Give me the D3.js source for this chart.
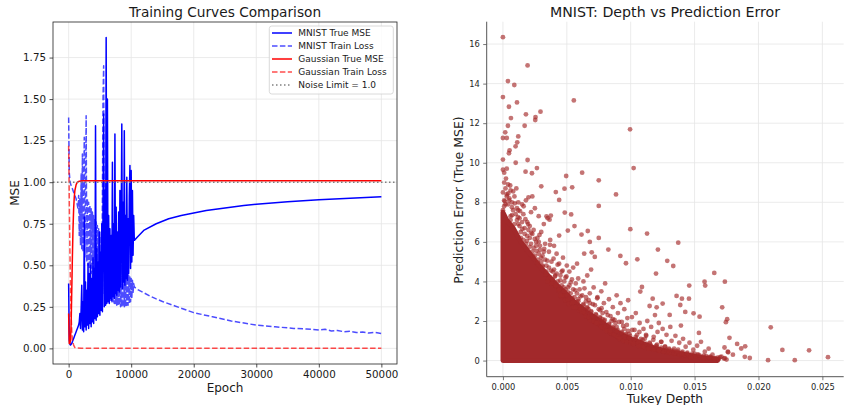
<!DOCTYPE html>
<html>
<head>
<meta charset="utf-8">
<script src="https://d3js.org/d3.v7.min.js"></script>
<style>
  body { margin: 0; background: #fff; }
  text { font-family: "DejaVu Sans", sans-serif; }
</style>
</head>
<body>
<script>
// ---- left panel: training curves ----
// noisy phase is logged every 100 epochs from 0 to 10500
var logStep = 100;
var mnistTrueNoisy = [0.39,0.05,0.025,0.02,0.025,0.03,0.04,0.05,0.06,0.07,
  0.08,0.09,0.10,0.11,0.12,0.13,0.14,0.16,
  0.21,0.12,0.24,0.38,0.11,0.28,0.10,0.79,0.13,0.40,0.11,0.35,
  0.14,0.51,0.12,0.45,0.15,0.50,0.13,0.42,0.16,0.55,
  0.15,0.48,0.18,1.34,0.17,0.60,0.19,0.52,0.21,0.70,
  0.20,0.58,0.23,0.75,0.22,0.85,1.41,0.25,0.95,0.26,
  1.87,0.27,1.50,0.28,0.80,0.27,0.72,0.30,0.68,0.29,
  1.12,0.31,0.75,0.30,1.29,0.33,0.85,0.32,0.70,0.35,
  0.82,0.34,0.95,0.37,0.72,1.35,0.36,0.88,0.40,1.31,
  0.38,0.80,0.42,1.03,0.41,0.78,0.45,0.92,1.10,0.48,
  1.07,0.52,0.95,0.56,0.80,0.65];
var mnistTrainNoisy = [1.39,1.06,1.01,0.99,0.98,0.97,0.96,0.95,0.94,0.93,
  0.92,0.91,0.90,0.88,0.86,
  0.84,0.92,0.68,0.90,0.62,1.05,0.60,1.17,0.58,0.95,
  1.27,0.55,0.92,1.40,0.52,0.90,0.50,0.88,0.48,0.86,
  0.46,0.84,0.45,0.82,0.43,0.80,0.42,0.78,0.40,0.76,
  0.39,0.74,0.37,0.72,0.36,0.70,0.35,0.68,0.34,0.90,
  1.50,1.70,0.33,0.66,0.32,0.64,0.31,0.62,0.30,0.60,
  0.30,0.60,0.29,0.58,0.28,0.57,0.28,0.56,0.27,0.55,
  0.27,0.54,0.26,0.53,0.26,0.52,0.26,0.50,0.25,0.50,
  0.25,0.49,0.25,0.48,0.25,0.47,0.25,0.46,0.26,0.45,
  0.26,0.44,0.27,0.43,0.28,0.42,0.30,0.41,0.33,0.39,0.37];
// smooth phase after 10500
var mnistTrueTailEpochs = [11000,12000,14000,16000,18000,20000,22000,25000,28000,30000,35000,40000,45000,50000];
var mnistTrueTail = [0.67,0.71,0.75,0.78,0.80,0.815,0.83,0.845,0.86,0.867,0.883,0.895,0.904,0.912];
var mnistTrainTailEpochs = [11000,12000,13000,14000,15000,17000,20000,23000,26000,30000,33000,36000,38000,40000,41000,42000,43000,44000,45000,46000,47000,48000,49000,50000];
var mnistTrainTail = [0.355,0.335,0.315,0.298,0.282,0.255,0.215,0.19,0.165,0.14,0.13,0.12,0.117,0.11,0.115,0.105,0.108,0.10,0.103,0.095,0.099,0.092,0.096,0.09];
var gaussTrueEpochs = [0,100,200,300,400,500,600,700,800,900,1000,1200,1400,1700,2000,50000];
var gaussTrue = [0.21,0.03,0.03,0.05,0.15,0.35,0.55,0.72,0.84,0.91,0.95,0.985,1.0,1.006,1.008,1.008];
var gaussTrainEpochs = [0,50,100,200,300,400,500,600,800,1000,1200,2000,50000];
var gaussTrain = [1.22,1.10,0.90,0.60,0.35,0.20,0.10,0.05,0.02,0.005,0.002,0.001,0.001];
var noiseLimit = 1.0;
var epochTicks = [0,10000,20000,30000,40000,50000];
var mseTicks = [0,0.25,0.5,0.75,1.0,1.25,1.5,1.75];
var legendLabels = ["MNIST True MSE","MNIST Train Loss","Gaussian True MSE","Gaussian Train Loss","Noise Limit = 1.0"];

// ---- right panel: depth vs error ----
var depthTicks = [0,0.005,0.010,0.015,0.020,0.025];
var errTicks = [0,2,4,6,8,10,12,14,16];
// upper edge of the saturated mass of points
var coreDepth = [0,0.0003,0.0008,0.0014,0.002,0.0027,0.0034,0.0041,0.0049,0.0057,0.0066,0.0075,0.0085,0.0095,0.0106,0.0118,0.013,0.0143,0.0156,0.0168];
var coreTop = [7.5,7.1,6.7,6.0,5.5,4.9,4.4,3.9,3.4,2.9,2.45,2.05,1.6,1.25,0.95,0.65,0.45,0.3,0.15,0.06];
// speckled band just above the mass
var bandPts = [[0.00015,8.05],[0.00042,8.45],[0.00071,7.35],[0.00093,7.95],[0.00118,7.25],[0.00134,7.55],[0.00152,6.65],[0.00176,7.15],[0.00188,6.05],[0.00057,8.85],[0.00024,9.2],[0.00105,8.7],[0.00162,7.8],[0.00197,6.9],
  [0.00208,5.75],[0.00221,6.45],[0.00237,5.25],[0.00249,6.15],[0.00262,5.55],[0.00274,4.95],[0.00286,6.35],[0.00298,5.2],[0.00311,4.75],[0.00323,5.65],[0.00336,4.35],[0.00347,5.05],[0.00359,4.15],[0.00368,5.85],[0.00377,4.55],[0.00389,3.95],[0.00396,5.15],
  [0.00407,4.25],[0.00415,3.75],[0.00428,4.85],[0.00436,3.55],[0.00449,4.05],[0.00458,3.25],[0.00467,4.55],[0.00476,3.7],[0.00488,3.05],[0.00497,4.25],[0.00509,3.45],[0.00517,2.85],[0.00531,3.95],[0.00542,3.15],[0.00553,2.7],[0.00566,3.55],[0.00578,2.95],[0.00589,4.15],[0.00597,2.55],
  [0.00608,3.25],[0.00617,2.45],[0.00629,2.85],[0.00638,3.65],[0.00646,2.25],[0.00659,2.65],[0.00671,3.05],[0.00683,2.05],[0.00692,2.45],[0.00704,2.85],[0.00716,1.95],[0.00727,2.35],[0.00738,3.15],[0.00749,1.85],[0.00761,2.15],[0.00772,2.65],[0.00786,1.65],[0.00797,2.05],
  [0.00809,2.45],[0.00818,1.55],[0.00831,1.85],[0.00842,2.25],[0.00853,1.35],[0.00866,1.65],[0.00874,2.05],[0.00887,1.25],[0.00898,1.55],[0.00909,1.95],[0.00918,1.15],[0.00929,1.45],[0.00941,1.75],[0.00953,1.05],[0.00962,1.35],[0.00974,2.15],[0.00986,1.0],[0.00995,1.25],
  [0.01012,1.55],[0.01026,0.95],[0.01039,1.2],[0.01054,0.85],[0.01068,1.45],[0.01079,0.75],[0.01093,1.05],[0.01107,0.7],[0.01121,1.25],[0.01135,0.65],[0.01149,0.9],[0.01163,0.6],[0.01177,1.05],[0.01191,0.55],[0.01206,0.8],[0.01222,0.5],[0.01238,0.95],[0.01254,0.45],[0.01268,0.7],[0.01283,0.4],
  [0.01301,0.6],[0.01318,0.35],[0.01336,0.5],[0.01352,0.3],[0.01371,0.55],[0.01389,0.28],[0.01406,0.45],[0.01425,0.25],[0.01443,0.4],[0.01462,0.22],[0.01481,0.35],[0.01503,0.2],[0.01522,0.3],[0.01546,0.15],[0.01572,0.25],[0.01597,0.12],[0.01624,0.2],[0.01651,0.1],[0.01683,0.08]];
// points hugging the edge of the mass
var edgePts = [[0.0002,7.9],[0.0005,8.1],[0.0008,7.6],[0.0003,8.3],[0.0007,8.0],[0.001,7.4],[0.0001,7.8],[0.0012,7.6],[0.0006,7.1],
  [0.0011,7.1],[0.0013,6.8],[0.0015,7.0],[0.0014,6.5],[0.0017,6.7],[0.0019,6.3],[0.0016,6.1],[0.0012,6.9],[0.002,6.6],[0.0018,5.9],[0.0021,6.2],
  [0.0022,5.9],[0.0024,5.7],[0.0026,6.0],[0.0028,5.4],[0.0025,5.3],[0.0029,5.8],[0.0027,5.1],[0.003,5.0],[0.0023,6.4],[0.0028,6.0],
  [0.0031,4.8],[0.0033,5.1],[0.0034,4.5],[0.0036,4.7],[0.0037,4.2],[0.0039,4.5],[0.0035,4.0],[0.0038,3.9],[0.004,4.6],[0.0032,5.5],
  [0.0041,3.8],[0.0043,4.0],[0.0044,3.6],[0.0046,3.8],[0.0047,3.3],[0.0049,3.6],[0.0045,4.3],[0.0048,4.0],[0.005,3.3],[0.0042,4.4],
  [0.0051,3.1],[0.0053,3.4],[0.0054,2.9],[0.0056,3.2],[0.0057,2.7],[0.0059,3.0],[0.0055,3.6],[0.0058,3.4],[0.006,2.7],[0.0052,3.8],
  [0.0061,2.6],[0.0063,2.8],[0.0064,2.4],[0.0066,2.7],[0.0067,2.2],[0.0069,2.5],[0.0065,3.2],[0.0068,2.9],[0.007,2.2],
  [0.0071,2.0],[0.0073,2.3],[0.0074,1.9],[0.0076,2.2],[0.0077,1.7],[0.0079,2.0],[0.0075,2.6],[0.0078,2.4],[0.008,1.7],
  [0.0081,1.5],[0.0083,1.8],[0.0084,1.4],[0.0086,1.7],[0.0087,1.3],[0.0089,1.5],[0.0085,2.0],[0.0088,1.9],[0.009,1.2],
  [0.0091,1.1],[0.0093,1.4],[0.0094,1.0],[0.0096,1.3],[0.0097,0.95],[0.0099,1.15],[0.0095,1.6],[0.0098,1.5],[0.01,0.9],
  [0.0102,0.85],[0.0104,1.1],[0.0106,0.75],[0.0108,0.95],[0.011,0.7],[0.0112,0.85],[0.0114,0.6],[0.0116,0.75],[0.0118,0.55],[0.012,0.7],[0.0105,1.3],[0.0111,1.1],
  [0.0122,0.5],[0.0124,0.65],[0.0126,0.45],[0.0128,0.55],[0.013,0.4],[0.0132,0.5],[0.0134,0.35],[0.0136,0.45],[0.0138,0.3],[0.014,0.4],
  [0.0142,0.28],[0.0144,0.35],[0.0148,0.25],[0.0151,0.2],[0.0153,0.3],[0.0156,0.18],[0.0159,0.22],[0.0163,0.15],[0.0166,0.12],[0.0169,0.08],[0.0173,0.1],[0.0175,0.05]];
// looser points further out from the mass
var fringePts = [[0.0000,9.65],[0.0001,9.5],[0.0003,9.7],[0.0001,9.0],[0.0004,8.9],[0.0002,8.7],[0.0006,8.6],[0.0,8.5],[0.0003,8.4],[0.0008,8.55],
  [0.0005,8.2],[0.0001,8.1],[0.0009,8.3],[0.0012,8.0],[0.0004,7.9],[0.0007,7.75],[0.0,7.6],[0.0011,7.7],[0.0015,7.9],[0.0018,8.1],
  [0.002,8.25],[0.0023,8.3],[0.0016,7.4],[0.0013,7.2],[0.0019,7.0],[0.0009,6.9],[0.0006,7.3],[0.0022,7.5],[0.0025,7.7],[0.0028,7.3],
  [0.0021,6.8],[0.0024,6.6],[0.0017,6.4],[0.0014,6.2],[0.0027,6.2],[0.003,6.5],[0.0032,6.9],[0.0035,7.2],[0.0037,6.1],[0.0033,5.9],
  [0.0029,5.6],[0.0026,5.8],[0.0023,5.5],[0.0031,5.3],[0.0036,5.5],[0.004,5.8],[0.0042,5.4],[0.0038,5.0],[0.0034,4.8],[0.0044,4.9],
  [0.0047,5.2],[0.005,4.8],[0.0046,4.5],[0.0041,4.3],[0.0039,4.1],[0.0049,4.2],[0.0052,4.5],[0.0055,4.7],[0.0058,4.9],[0.0054,4.1],
  [0.0057,3.9],[0.0051,3.7],[0.0048,3.5],[0.0045,3.3],[0.006,3.6],[0.0063,4.0],[0.0066,4.3],[0.0069,4.6],[0.0062,3.3],[0.0059,3.1],
  [0.0055,2.95],[0.0065,3.0],[0.0068,3.4],[0.0071,3.7],[0.0074,3.2],[0.0077,3.5],[0.008,3.9],[0.0072,2.8],[0.0067,2.6],[0.0063,2.45],
  [0.0076,2.55],[0.0079,2.9],[0.0083,3.1],[0.0086,2.7],[0.0089,3.3],[0.0092,2.9],[0.0082,2.3],[0.0078,2.1],[0.0073,1.9],[0.0086,2.1],
  [0.009,2.4],[0.0095,2.6],[0.0098,3.05],[0.0093,1.95],[0.0089,1.7],[0.0084,1.5],[0.0097,1.8],[0.0101,2.2],[0.0104,2.4],[0.0107,1.9],
  [0.0103,1.55],[0.0099,1.35],[0.0095,1.2],[0.011,1.6],[0.0113,2.0],[0.0116,1.7],[0.0119,2.3],[0.0122,1.9],[0.0108,1.1],[0.0112,1.3],
  [0.0106,0.95],[0.0118,1.2],[0.0121,1.45],[0.0125,1.6],[0.0128,1.3],[0.0131,1.7],[0.0115,0.85],[0.012,0.75],[0.0124,0.95],[0.0127,0.7],
  [0.0132,1.0],[0.0135,1.25],[0.0138,0.9],[0.0141,1.1],[0.013,0.55],[0.0134,0.6],[0.0137,0.45],[0.0143,0.7],[0.0146,0.9],[0.0149,0.55],
  [0.0152,0.75],[0.0155,0.95],[0.014,0.35],[0.0145,0.3],[0.015,0.35],[0.0154,0.25],[0.0158,0.45],[0.0161,0.6],[0.0164,0.3],[0.0168,0.15],
  [0.0171,0.2],[0.0157,0.1],[0.0162,0.12],[0.0147,0.15],[0.0176,0.45],[0.018,0.3]];
// isolated points
var outlierPts = [[0,16.35],[0.00193,14.92],[0.00039,14.13],[0.00089,13.93],[0.0,13.32],[0.0011,13.05],[0.00047,12.83],[0.00555,13.15],
  [0.00294,12.58],[0.0018,12.45],[0.00255,12.31],[0.00063,12.26],[0.00253,12.16],[0.0017,11.87],[0.00039,11.87],[0.00995,11.69],
  [0.00018,11.54],[0.0012,11.33],[0,11.25],[0.0003,11.25],[0.00112,11.03],[0.00099,10.83],[0.00052,10.63],[0.00047,10.48],
  [0,10.16],[0.00193,10.14],[0.001,10.0],[0.01023,9.73],[0.00266,9.73],[0.0062,9.5],[0.00177,9.55],[0.00227,9.47],
  [0.00495,9.33],[0.0075,9.11],[0.003,8.81],[0.00542,8.76],[0.00482,8.69],[0.00885,8.4],[0.00414,8.52],[0.0044,8.12],
  [0.0075,7.82],[0.00484,7.48],[0.00534,7.39],[0.00997,6.64],[0.01128,6.42],[0.0056,6.8],[0.00508,6.57],[0.00664,6.55],
  [0.00615,6.37],[0.0075,6.2],[0.0044,6.32],[0.01372,5.96],[0.01213,5.61],[0.00825,5.61],[0.01052,5.12],[0.01286,5.04],
  [0.00919,5.29],[0.00963,4.92],[0.01333,4.78],[0.01198,4.4],[0.01654,4.43],[0.01578,3.99],[0.01737,3.99],[0.01583,3.79],
  [0.01458,3.79],[0.01088,3.72],[0.01075,3.49],[0.01359,3.27],[0.01401,3.13],[0.01456,3.13],[0.01172,3.13],[0.01716,2.69],
  [0.01388,2.81],[0.0125,2.88],[0.01148,2.76],[0.01203,2.69],[0.01427,2.46],[0.01492,2.39],[0.01539,2.22],[0.01305,2.31],
  [0.01755,2.09],[0.01745,1.94],[0.02096,1.68],[0.01393,1.77],[0.01534,1.4],[0.01773,1.15],[0.01833,0.84],[0.01896,0.72],
  [0.01865,0.61],[0.01734,0.66],[0.01763,0.42],[0.02187,0.54],[0.02396,0.52],[0.01893,0.19],[0.01932,0.13],[0.02075,0.02],
  [0.02284,0.02],[0.02544,0.17],[0.01654,0.08],[0.01612,0.17],[0.017,0.17],[0.01737,0.12],
  [0.00719,5.24],[0.00636,5.41],[0.00695,5.47],[0.0068,6.0],[0.00341,7.29],[0.00375,7.33],[0.00365,7.12]];

var W = 844, H = 405;
var svg = d3.select("body").append("svg").attr("width", W).attr("height", H);
var gridColor = "#e6e6e6";

// ================= LEFT PANEL =================
var L = {x0: 53, x1: 397, y0: 22, y1: 364};
var xL = d3.scaleLinear().domain([-2500, 52500]).range([L.x0, L.x1]);
var yL = d3.scaleLinear().domain([-0.094, 1.964]).range([L.y1, L.y0]);
var left = svg.append("g");

left.selectAll(".gx").data(epochTicks).enter().append("line")
  .attr("x1", d => xL(d)).attr("x2", d => xL(d)).attr("y1", L.y0).attr("y2", L.y1)
  .attr("stroke", gridColor).attr("stroke-width", 0.8);
left.selectAll(".gy").data(mseTicks).enter().append("line")
  .attr("x1", L.x0).attr("x2", L.x1).attr("y1", d => yL(d)).attr("y2", d => yL(d))
  .attr("stroke", gridColor).attr("stroke-width", 0.8);

svg.append("clipPath").attr("id", "clipL").append("rect")
  .attr("x", L.x0).attr("y", L.y0).attr("width", L.x1 - L.x0).attr("height", L.y1 - L.y0);
var plotL = left.append("g").attr("clip-path", "url(#clipL)");

function noisyThenTail(noisy, tailEp, tailVal) {
  var pts = noisy.map(function(v, i) { return [i * logStep, v]; });
  tailEp.forEach(function(e, i) { pts.push([e, tailVal[i]]); });
  return pts;
}
var line = d3.line().x(d => xL(d[0])).y(d => yL(d[1]));

var series = [
  {pts: noisyThenTail(mnistTrueNoisy, mnistTrueTailEpochs, mnistTrueTail), color: "#0000ff", op: 1, dash: null},
  {pts: noisyThenTail(mnistTrainNoisy, mnistTrainTailEpochs, mnistTrainTail), color: "#0000ff", op: 0.7, dash: "5.5,2.4"},
  {pts: gaussTrueEpochs.map((e, i) => [e, gaussTrue[i]]), color: "#ff0000", op: 1, dash: null},
  {pts: gaussTrainEpochs.map((e, i) => [e, gaussTrain[i]]), color: "#ff0000", op: 0.7, dash: "5.5,2.4"}
];
series.forEach(function(s) {
  plotL.append("path").attr("d", line(s.pts)).attr("fill", "none")
    .attr("stroke", s.color).attr("stroke-opacity", s.op).attr("stroke-width", 1.5)
    .attr("stroke-dasharray", s.dash).attr("stroke-linejoin", "round");
});
plotL.append("line").attr("x1", L.x0).attr("x2", L.x1)
  .attr("y1", yL(noiseLimit)).attr("y2", yL(noiseLimit))
  .attr("stroke", "#808080").attr("stroke-width", 1.5).attr("stroke-dasharray", "1.5,2.5");

// axes
var axXL = left.append("g").attr("transform", "translate(0," + L.y1 + ")")
  .call(d3.axisBottom(xL).tickValues(epochTicks).tickFormat(d3.format("d")).tickSize(3.5).tickPadding(3.5));
var axYL = left.append("g").attr("transform", "translate(" + L.x0 + ",0)")
  .call(d3.axisLeft(yL).tickValues(mseTicks).tickFormat(d3.format(".2f")).tickSize(3.5).tickPadding(3.5));
[axXL, axYL].forEach(function(a) {
  a.select(".domain").remove();
  a.selectAll("text").attr("font-size", "10.3px").attr("font-family", "DejaVu Sans").attr("fill", "#1a1a1a");
  a.selectAll("line").attr("stroke", "#222").attr("stroke-width", 0.8);
});
left.append("rect").attr("x", L.x0).attr("y", L.y0).attr("width", L.x1 - L.x0).attr("height", L.y1 - L.y0)
  .attr("fill", "none").attr("stroke", "#222").attr("stroke-width", 0.8);

left.append("text").attr("x", (L.x0 + L.x1) / 2).attr("y", 17).attr("text-anchor", "middle")
  .attr("font-size", "13.7px").attr("fill", "#1a1a1a").text("Training Curves Comparison");
left.append("text").attr("x", (L.x0 + L.x1) / 2).attr("y", 392).attr("text-anchor", "middle")
  .attr("font-size", "12px").attr("fill", "#1a1a1a").text("Epoch");
left.append("text").attr("transform", "translate(18.5," + ((L.y0 + L.y1) / 2) + ") rotate(-90)")
  .attr("text-anchor", "middle").attr("font-size", "12px").attr("fill", "#1a1a1a").text("MSE");

// legend
var lg = left.append("g");
lg.append("rect").attr("x", 269.3).attr("y", 26).attr("width", 124).attr("height", 68).attr("rx", 2.5)
  .attr("fill", "#fff").attr("fill-opacity", 0.8).attr("stroke", "#d0d0d0").attr("stroke-width", 0.8);
var legendStyles = [
  {color: "#0000ff", op: 1, dash: null},
  {color: "#0000ff", op: 0.7, dash: "5.5,2.4"},
  {color: "#ff0000", op: 1, dash: null},
  {color: "#ff0000", op: 0.7, dash: "5.5,2.4"},
  {color: "#808080", op: 1, dash: "1.5,2.5"}
];
legendLabels.forEach(function(lab, i) {
  var y = 33 + i * 13;
  lg.append("line").attr("x1", 272).attr("x2", 292).attr("y1", y).attr("y2", y)
    .attr("stroke", legendStyles[i].color).attr("stroke-opacity", legendStyles[i].op)
    .attr("stroke-width", 1.5).attr("stroke-dasharray", legendStyles[i].dash);
  lg.append("text").attr("x", 298.3).attr("y", y + 3.2).attr("font-size", "9px").attr("fill", "#1a1a1a").text(lab);
});

// ================= RIGHT PANEL =================
var R = {x0: 486.7, x1: 843.7, y0: 21.7, y1: 376.7};
var xR = d3.scaleLinear().domain([-0.00127, 0.02667]).range([R.x0, R.x1]);
var yR = d3.scaleLinear().domain([-0.815, 17.13]).range([R.y1, R.y0]);
var right = svg.append("g");

right.selectAll(".gx").data(depthTicks).enter().append("line")
  .attr("x1", d => xR(d)).attr("x2", d => xR(d)).attr("y1", R.y0).attr("y2", R.y1)
  .attr("stroke", gridColor).attr("stroke-width", 0.8);
right.selectAll(".gy").data(errTicks).enter().append("line")
  .attr("x1", R.x0).attr("x2", R.x1).attr("y1", d => yR(d)).attr("y2", d => yR(d))
  .attr("stroke", gridColor).attr("stroke-width", 0.8);

var dotColor = "#a52a2a";
var core = d3.area().x(d => xR(d[0])).y0(yR(0)).y1(d => yR(d[1]));
right.append("path").attr("d", core(coreDepth.map((d, i) => [d, coreTop[i]])))
  .attr("fill", "#a2292b").attr("stroke", "#a2292b").attr("stroke-width", 4.8).attr("stroke-linejoin", "round");
right.selectAll(".dot").data(bandPts.concat(edgePts, fringePts, outlierPts)).enter().append("circle")
  .attr("cx", d => xR(d[0])).attr("cy", d => yR(d[1])).attr("r", 2.4)
  .attr("fill", dotColor).attr("fill-opacity", 0.65);

var axXR = right.append("g").attr("transform", "translate(0," + R.y1 + ")")
  .call(d3.axisBottom(xR).tickValues(depthTicks).tickFormat(d3.format(".3f")).tickSize(3.5).tickPadding(3.5));
var axYR = right.append("g").attr("transform", "translate(" + R.x0 + ",0)")
  .call(d3.axisLeft(yR).tickValues(errTicks).tickFormat(d3.format("d")).tickSize(3.5).tickPadding(3.5));
[axXR, axYR].forEach(function(a) {
  a.select(".domain").attr("stroke", "#555").attr("stroke-width", 1);
  a.selectAll("text").attr("font-size", "8.3px").attr("font-family", "DejaVu Sans").attr("fill", "#262626");
  a.selectAll(".tick line").attr("stroke", "#555").attr("stroke-width", 0.8);
});
// spine lines spanning the whole axes
axXR.select(".domain").attr("d", "M" + R.x0 + ",0H" + R.x1);
axYR.select(".domain").attr("d", "M0," + R.y0 + "V" + R.y1);

right.append("text").attr("x", 665).attr("y", 17).attr("text-anchor", "middle")
  .attr("font-size", "14.2px").attr("fill", "#1a1a1a").text("MNIST: Depth vs Prediction Error");
right.append("text").attr("x", 665).attr("y", 403).attr("text-anchor", "middle")
  .attr("font-size", "12.3px").attr("fill", "#1a1a1a").text("Tukey Depth");
right.append("text").attr("transform", "translate(462.5,200) rotate(-90)")
  .attr("text-anchor", "middle").attr("font-size", "12.5px").attr("fill", "#1a1a1a").text("Prediction Error (True MSE)");
</script>
</body>
</html>
